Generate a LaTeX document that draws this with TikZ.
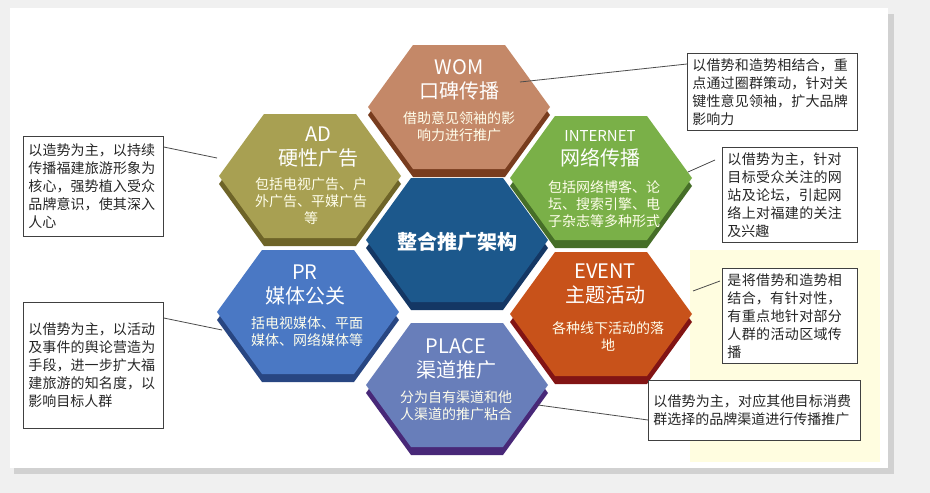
\documentclass[tikz,border=0pt]{standalone}
\usepackage{fontspec}
\setmainfont{Noto Sans CJK SC}
\XeTeXlinebreaklocale "zh"
\XeTeXlinebreakskip=0pt plus 1pt
\usetikzlibrary{calc}
\definecolor{cwom}{RGB}{196,136,104}\definecolor{dwom}{RGB}{120,60,30}
\definecolor{cad}{RGB}{168,160,82}\definecolor{dad}{RGB}{110,100,40}
\definecolor{cnet}{RGB}{122,176,72}\definecolor{dnet}{RGB}{70,110,40}
\definecolor{cctr}{RGB}{28,88,140}\definecolor{dctr}{RGB}{20,55,100}
\definecolor{cpr}{RGB}{74,120,196}\definecolor{dpr}{RGB}{40,70,130}
\definecolor{cevt}{RGB}{200,82,26}\definecolor{devt}{RGB}{130,20,20}
\definecolor{cplc}{RGB}{104,126,186}\definecolor{dplc}{RGB}{72,40,120}
\begin{document}
\begin{tikzpicture}[x=1pt,y=-1pt,
  box/.style={draw=black!75,line width=0.8pt,fill=white,align=left,anchor=north west,inner sep=5pt,font=\fontsize{14}{18}\selectfont,text=black!85},
  conn/.style={draw=black!70,line width=0.8pt},
  htitle/.style={text=white,font=\fontsize{20}{24}\selectfont,align=center},
  hsub/.style={text=white!92!yellow,font=\fontsize{14}{17}\selectfont,align=center}]
\useasboundingbox (0,0) rectangle (930,493);
\fill[black!6] (0,0) rectangle (930,493);
\fill[black!18] (14,14) rectangle (894,474);
\fill[white] (10,8) rectangle (888,468);
\fill[yellow!12] (690,250) rectangle (880,462);
\newcommand{\hexa}[3]{%
  \fill[#3] ($(#1)+(-91,8)$) -- ($(#1)+(-46,-54)$) -- ($(#1)+(46,-54)$) -- ($(#1)+(91,8)$) -- ($(#1)+(46,70)$) -- ($(#1)+(-46,70)$) -- cycle;
  \fill[#2] ($(#1)+(-91,0)$) -- ($(#1)+(-46,-62)$) -- ($(#1)+(46,-62)$) -- ($(#1)+(91,0)$) -- ($(#1)+(46,62)$) -- ($(#1)+(-46,62)$) -- cycle;}
\coordinate (wom) at (459,107);
\coordinate (ad) at (310,176);
\coordinate (net) at (601,178);
\coordinate (ctr) at (457,240);
\coordinate (pr) at (308,312);
\coordinate (evt) at (601,314);
\coordinate (plc) at (457,385);
\hexa{wom}{cwom}{dwom}
\hexa{ad}{cad}{dad}
\hexa{net}{cnet}{dnet}
\hexa{ctr}{cctr}{dctr}
\hexa{pr}{cpr}{dpr}
\hexa{evt}{cevt}{devt}
\hexa{plc}{cplc}{dplc}
\node[htitle] (womt) at (459,80) {WOM\\口碑传播};
\node[hsub] (woms) at (459,127) {借助意见领袖的影\\响力进行推广};
\node[htitle] (adt) at (318,147) {AD\\硬性广告};
\node[hsub] (ads) at (311,201) {包括电视广告、户\\外广告、平媒广告\\等};
\node[htitle,font=\fontsize{15}{24}\selectfont] (nett) at (600,149) {INTERNET\\{\fontsize{20}{24}\selectfont 网络传播}};
\node[hsub] (nets) at (604,204) {包括网络博客、论\\坛、搜索引擎、电\\子杂志等多种形式};
\node[text=white,font=\bfseries\fontsize{20}{24}\selectfont] (ctrt) at (457,242) {整合推广架构};
\node[htitle] (prt) at (305,285) {PR\\媒体公关};
\node[hsub] (prs) at (307,332) {括电视媒体、平面\\媒体、网络媒体等};
\node[htitle] (evtt) at (605,284) {EVENT\\主题活动};
\node[hsub] (evts) at (608,336) {各种线下活动的落\\地};
\node[htitle] (plct) at (456,359) {PLACE\\渠道推广};
\node[hsub] (plcs) at (456,406) {分为自有渠道和他\\人渠道的推广粘合};
\node[box,text width=160pt] (b1) at (687,53) {以借势和造势相结合，重点通过圈群策动，针对关键性意见领袖，扩大品牌影响力};
\node[box,text width=125pt] (b2) at (722,147) {以借势为主，针对目标受众关注的网站及论坛，引起网络上对福建的关注及兴趣};
\node[box,text width=125pt] (b3) at (722,268) {是将借势和造势相结合，有针对性，有重点地针对部分人群的活动区域传播};
\node[box,text width=202pt,minimum height=60pt] (b4) at (648,380) {以借势为主，对应其他目标消费群选择的品牌渠道进行传播推广};
\node[box,text width=130pt,minimum height=100pt] (b5) at (23,136) {以造势为主，以持续传播福建旅游形象为核心，强势植入受众品牌意识，使其深入人心};
\node[box,text width=130pt,minimum height=126pt] (b6) at (23,302) {以借势为主，以活动及事件的舆论营造为手段，进一步扩大福建旅游的知名度，以影响目标人群};
\coordinate (e1) at (520,82);
\coordinate (e2) at (688,172);
\coordinate (e3) at (693,291);
\coordinate (e4) at (538,405);
\coordinate (e5) at (217,158);
\coordinate (e6) at (222,330);
\coordinate (f2) at (715,160);
\coordinate (f3) at (720,281);
\draw[conn] (e1) -- (b1.west |- 0,64);
\draw[conn] (e2) -- (f2);
\draw[conn] (e3) -- (f3);
\draw[conn] (e4) -- (b4.west |- 0,420);
\draw[conn] (e5) -- (b5.east |- 0,147);
\draw[conn] (e6) -- (b6.east |- 0,318);
\end{tikzpicture}
\end{document}
